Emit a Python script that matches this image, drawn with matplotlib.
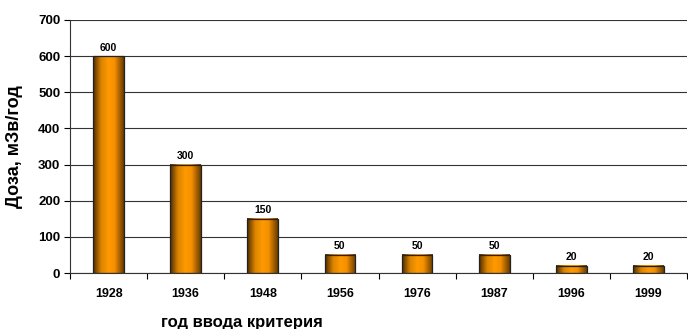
import numpy as np
import matplotlib
matplotlib.use("Agg")
import matplotlib.pyplot as plt
from matplotlib.colors import LinearSegmentedColormap

plt.rcParams['font.family'] = ['Liberation Sans', 'DejaVu Sans']
plt.rcParams['font.weight'] = 'bold'

years = ['1928', '1936', '1948', '1956', '1976', '1987', '1996', '1999']
doses = [600, 300, 150, 50, 50, 50, 20, 20]

# dark edges, bright orange middle -- a cylinder look
bar_cmap = LinearSegmentedColormap.from_list(
    'cyl', [(0.0, '#4e2c00'), (0.25, '#d98200'), (0.5, '#ff9a00'),
            (0.7, '#f59000'), (1.0, '#6a3c00')])

fig = plt.figure(figsize=(6.88, 3.29), dpi=100)
ax = fig.add_axes([70 / 688, 1 - 273 / 329, 617 / 688, 253 / 329])

x = np.arange(len(years))
width = 0.4
grad = np.linspace(0, 1, 64).reshape(1, -1)
for xi, d in zip(x, doses):
    ax.imshow(grad, cmap=bar_cmap, aspect='auto', extent=(xi - width / 2, xi + width / 2, 0, d),
              zorder=2, interpolation='bilinear')
    ax.bar(xi, d, width=width, facecolor='none', edgecolor='#222222', linewidth=0.9, zorder=3)
    ax.text(xi, d + 10, str(d), ha='center', va='bottom', fontsize=7.5, fontweight='bold')

ax.set_xlim(-0.5, len(years) - 0.5)
ax.set_ylim(0, 700)
ax.set_yticks(np.arange(0, 701, 100))
ax.yaxis.grid(True, color='#333333', linewidth=0.8, zorder=0)
ax.set_axisbelow(True)

ax.set_xticks(x)
ax.set_xticklabels(years, fontsize=9, fontweight='bold')
ax.set_xticks(np.arange(-0.5, len(years), 1), minor=True)
ax.tick_params(axis='x', which='major', length=0, pad=11)
ax.tick_params(axis='x', which='minor', length=4, width=0.8, direction='out')
ax.tick_params(axis='y', length=4, width=0.8, labelsize=9.5, pad=3)
for lbl in ax.get_yticklabels():
    lbl.set_fontweight('bold')

for side in ['top', 'right']:
    ax.spines[side].set_visible(False)
ax.spines['left'].set_color('#333333')
ax.spines['bottom'].set_color('#333333')

fig.text(15 / 688, 1 - 147 / 329, 'Доза, мЗв/год', rotation=90, ha='center', va='center',
         fontsize=13, fontweight='bold')
fig.text(242 / 688, 1 - 322 / 329, 'год ввода критерия', ha='center', va='center',
         fontsize=12, fontweight='bold')

fig.savefig('out.png', dpi=100)
